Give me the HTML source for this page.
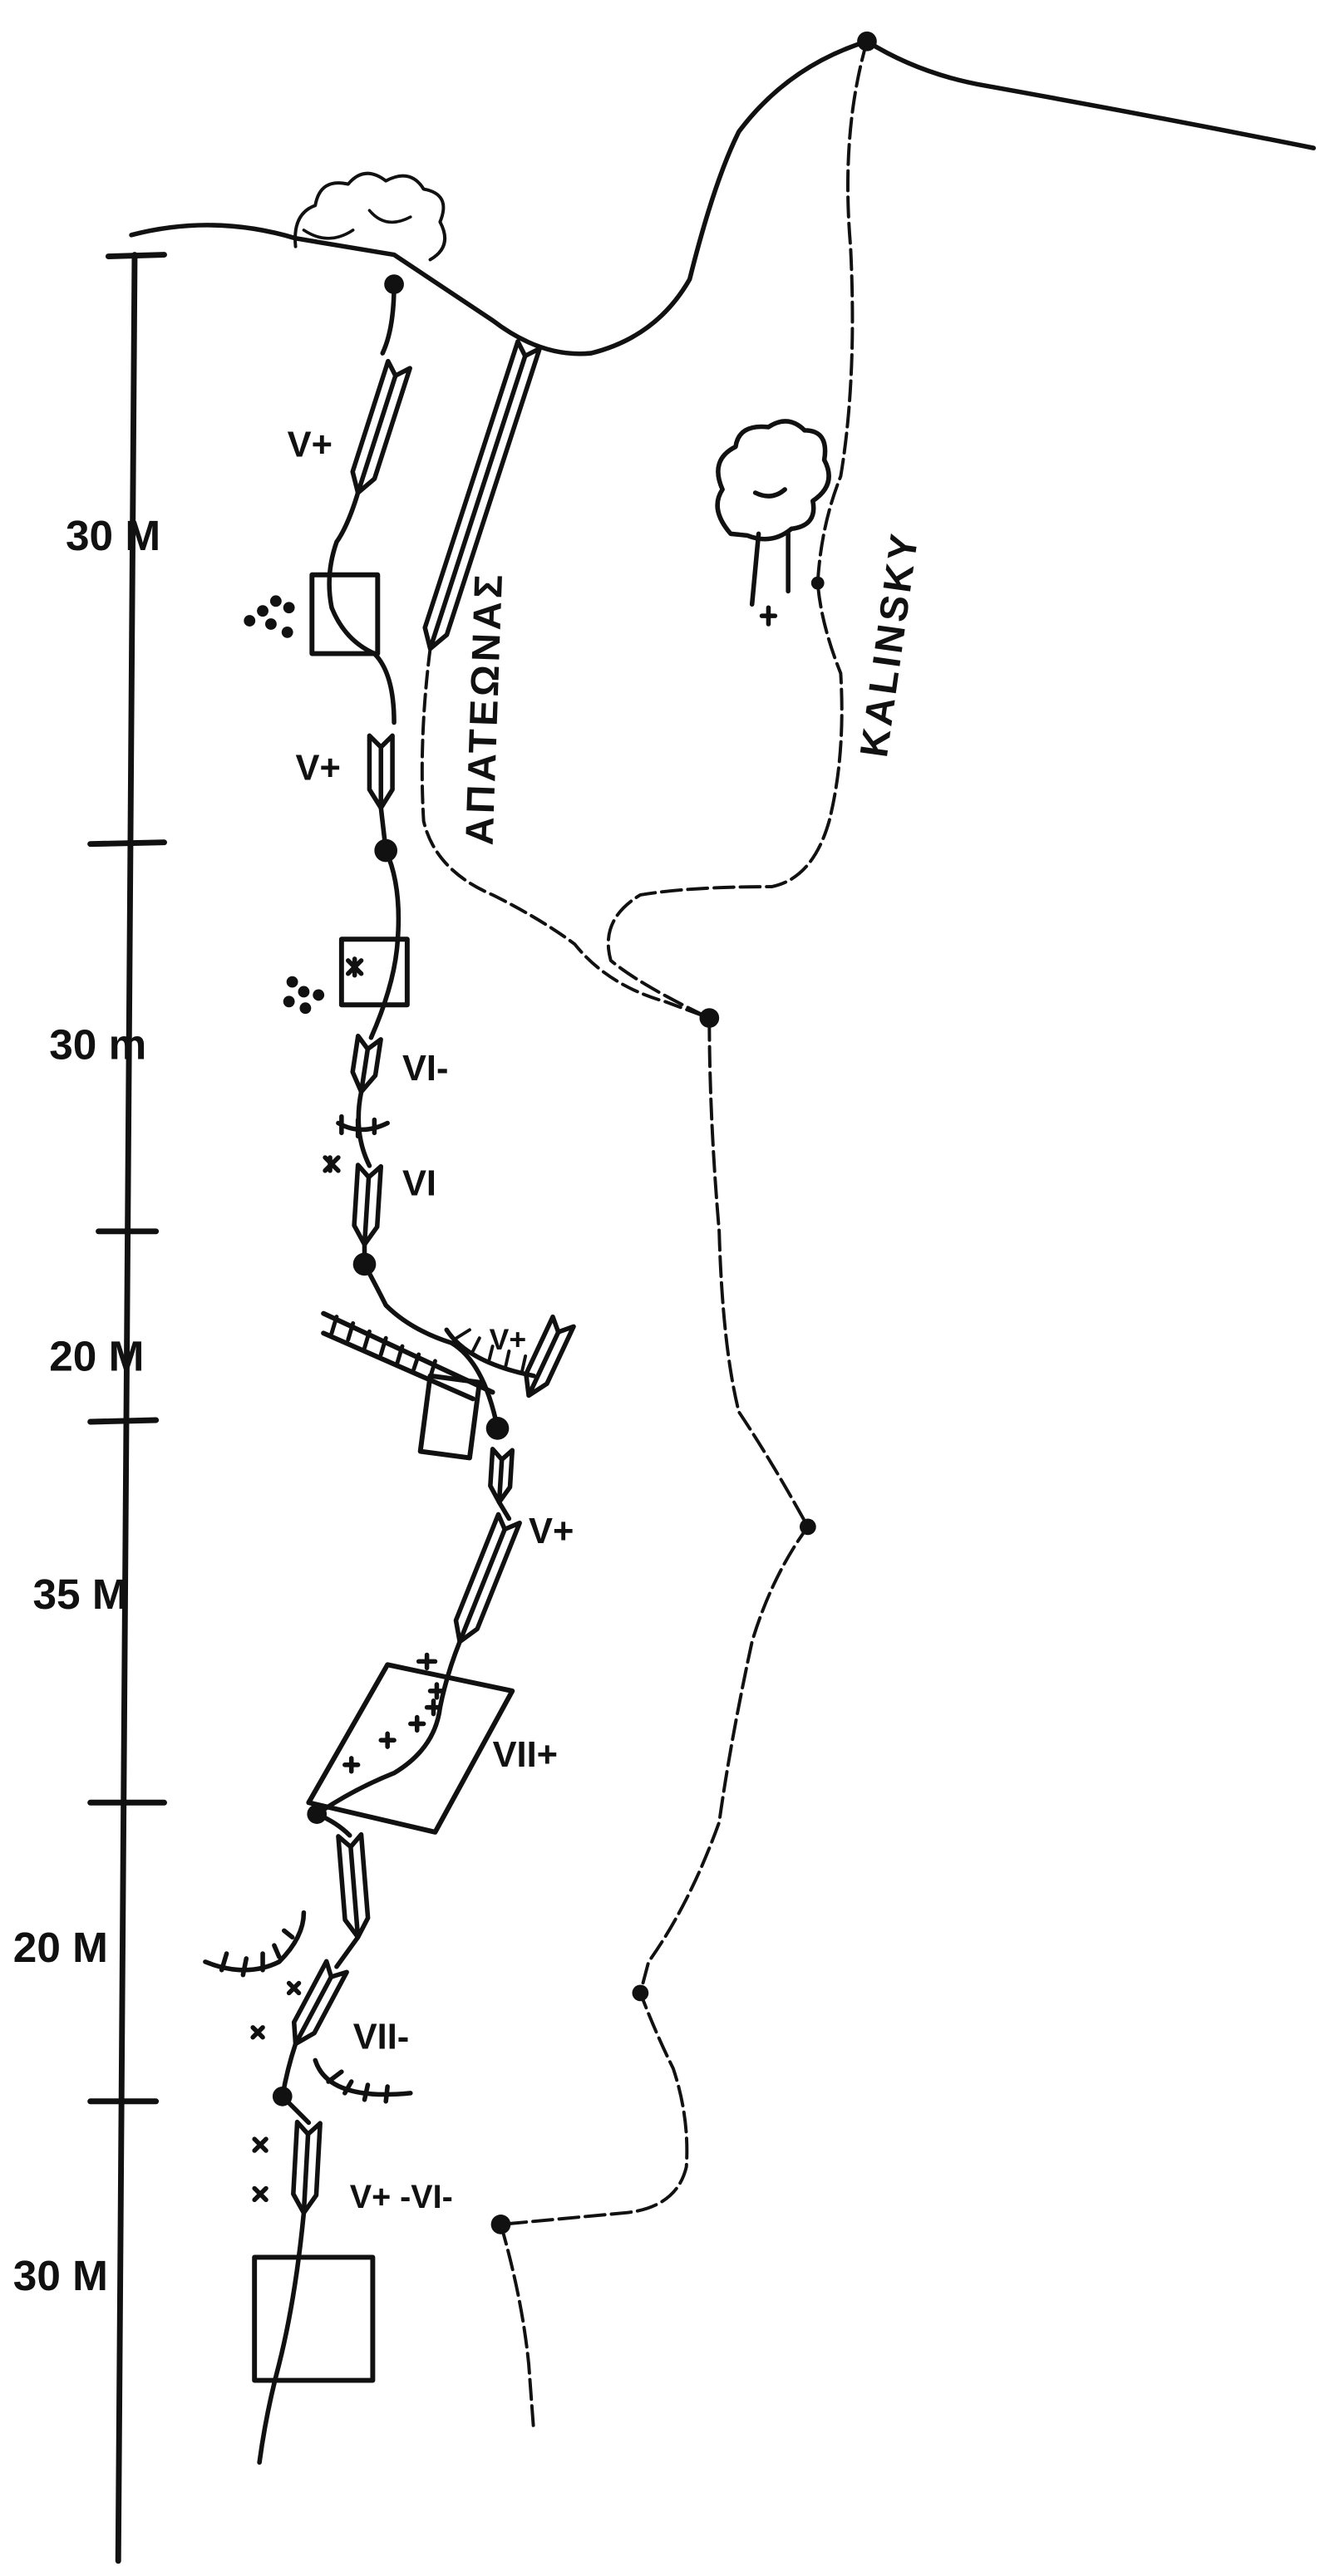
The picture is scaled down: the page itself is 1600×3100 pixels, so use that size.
<!DOCTYPE html>
<html><head><meta charset="utf-8"><style>
html,body{margin:0;padding:0;background:#fff;}
svg{display:block;}
text{font-family:"Liberation Sans",sans-serif;font-weight:bold;fill:#111;}
</style></head><body>
<svg id="s" width="1600" height="3100" viewBox="0 0 810 1569" xmlns="http://www.w3.org/2000/svg">
<g fill="none" stroke="#111" stroke-width="2.8" stroke-linecap="round" stroke-linejoin="round">
<!-- scale -->
<line x1="82" y1="155" x2="72" y2="1560" stroke-width="3.5"/>
<line x1="66" y1="156" x2="100" y2="155" stroke-width="3.5"/>
<line x1="55" y1="514" x2="100" y2="513" stroke-width="3.5"/>
<line x1="60" y1="750" x2="95" y2="750" stroke-width="3.5"/>
<line x1="55" y1="866" x2="95" y2="865" stroke-width="3.5"/>
<line x1="55" y1="1098" x2="100" y2="1098" stroke-width="3.5"/>
<line x1="55" y1="1280" x2="95" y2="1280" stroke-width="3.5"/>
<!-- ridge -->
<path d="M80 143 Q130 130 180 145 L240 155 Q270 175 300 195 Q330 218 360 215 Q400 205 420 170 Q435 110 450 80 Q480 40 528 25 Q560 45 600 52 Q700 70 800 90"/>
<!-- bush -->
<path d="M180 150 Q178 130 192 125 Q195 108 212 112 Q222 100 235 110 Q250 102 258 115 Q275 118 268 135 Q276 150 262 158" stroke-width="2"/>
<path d="M185 140 Q200 150 215 140 M225 128 Q235 140 250 132" stroke-width="1.8"/>
<!-- main route -->
<path d="M240 173 Q240 200 233 215 M218 300 Q212 320 205 330 Q198 350 202 370 Q210 390 228 398 Q240 410 240 440 M232 492 L235 518 Q245 540 242 575 Q240 600 226 632 M220 665 Q215 690 225 710 M222 758 L222 770 Q230 785 235 795 Q250 810 275 818 Q295 830 303 870 M304 915 L310 925 M280 1000 Q272 1020 268 1040 Q265 1065 240 1080 Q215 1090 193 1105 M193 1105 Q205 1110 213 1118 M218 1180 L205 1198 M180 1245 Q175 1260 172 1277 L188 1293 M185 1348 Q180 1400 170 1440 Q162 1470 158 1500" />
<!-- apateonas path -->
<path d="M262 395 Q255 450 258 500 Q265 530 300 545 Q330 560 350 575 Q370 600 405 610 L432 620" stroke-dasharray="10 4" stroke-width="2"/>
<!-- kalinsky dashed -->
<path d="M528 25 Q512 80 518 150 Q522 230 512 290 Q500 320 498 355 Q500 380 512 410 Q515 460 505 500 Q495 535 470 540 Q420 540 390 545 Q365 560 372 585 Q390 600 432 620 Q432 680 438 750 Q440 820 450 860 Q470 890 492 930 Q470 960 458 1000 Q445 1060 438 1110 Q420 1160 395 1195 L390 1214 Q400 1240 410 1260 Q420 1290 418 1320 Q412 1345 380 1348 L305 1355 Q318 1400 322 1440 L325 1480" stroke-dasharray="12 4" stroke-width="2"/>
<!-- boxes -->
<rect x="190" y="350" width="40" height="48" stroke-width="3"/>
<rect x="208" y="572" width="40" height="40" stroke-width="3"/>
<polygon points="262,838 292,842 286,888 256,884" stroke-width="3"/>
<polygon points="236,1014 312,1030 265,1116 188,1098" stroke-width="3"/>
<rect x="155" y="1375" width="72" height="75" stroke-width="3"/>
<!-- hatched ledges -->
<path d="M197 800 L300 848 M197 812 L288 852" stroke-width="3"/>
<path d="M205 802 L202 812 M215 806 L212 816 M225 811 L222 821 M235 815 L232 825 M245 820 L242 830 M255 825 L252 834 M265 829 L262 839" stroke-width="2.5"/>
<path d="M272 810 Q285 830 325 838" />
<path d="M278 815 L286 810 M288 823 L292 815 M298 828 L300 820 M308 832 L310 823 M318 835 L320 826" stroke-width="2"/>
<path d="M125 1195 Q150 1205 170 1195 Q185 1180 185 1165"/>
<path d="M135 1200 L138 1190 M148 1203 L150 1193 M160 1200 L160 1190 M170 1192 L167 1185 M178 1180 L173 1176"/>
<path d="M192 1255 Q200 1280 250 1275"/>
<path d="M200 1268 L208 1262 M210 1275 L214 1268 M222 1279 L224 1270 M235 1280 L236 1271"/>
<!-- crosses on slab -->
<path d="M210 1075 l8 0 m-4 -4 l0 8 M232 1060 l8 0 m-4 -4 l0 8 M250 1050 l8 0 m-4 -4 l0 8 M260 1040 l8 0 m-4 -4 l0 8 M262 1030 l8 0 m-4 -4 l0 8 M255 1012 l10 0 m-5 -4 l0 8"/>
<path d="M176 1208 l6 6 m0 -6 l-6 6 M154 1235 l6 6 m0 -6 l-6 6 M155 1303 l7 7 m0 -7 l-7 7 M155 1333 l7 7 m0 -7 l-7 7 M198 705 l8 8 m0 -8 l-8 8 M201 705 l0 8 M212 585 l8 8 m0 -8 l-8 8 M216 584 l0 10"/>
<path d="M206 684 Q220 692 236 684 M208 690 L208 680 M218 692 L218 682 M228 690 L228 682"/>
<!-- tree -->
<path d="M445 325 Q432 310 440 298 Q432 280 448 272 Q450 258 468 260 Q480 252 490 262 Q505 262 502 280 Q510 295 495 305 Q498 320 482 322 Q470 332 455 326 Z"/>
<path d="M462 325 L458 368 M480 325 L480 360 M460 300 Q470 305 478 298"/>
<path d="M468 370 l0 10 m-4 -5 l8 0"/>
</g>
<g fill="#111">
<circle cx="240" cy="173" r="6"/><circle cx="235" cy="518" r="7"/><circle cx="222" cy="770" r="7"/>
<circle cx="303" cy="870" r="7"/><circle cx="193" cy="1105" r="6"/><circle cx="172" cy="1277" r="6"/>
<circle cx="528" cy="25" r="6"/><circle cx="432" cy="620" r="6"/><circle cx="492" cy="930" r="5"/>
<circle cx="390" cy="1214" r="5"/><circle cx="305" cy="1355" r="6"/><circle cx="498" cy="355" r="4"/>
<circle cx="160" cy="372" r="3.5"/><circle cx="168" cy="366" r="3.5"/><circle cx="176" cy="370" r="3.5"/><circle cx="165" cy="380" r="3.5"/><circle cx="175" cy="385" r="3.5"/><circle cx="152" cy="378" r="3.5"/>
<circle cx="178" cy="598" r="3.5"/><circle cx="185" cy="604" r="3.5"/><circle cx="176" cy="610" r="3.5"/><circle cx="186" cy="614" r="3.5"/><circle cx="194" cy="606" r="3.5"/>
</g>
<g id="arrows" fill="none" stroke="#111" stroke-width="2.8" stroke-linejoin="round"></g>
<g font-size="22">
<text x="40" y="335" font-size="26">30 M</text>
<text x="30" y="645" font-size="26">30 m</text>
<text x="30" y="835" font-size="26">20 M</text>
<text x="20" y="980" font-size="26">35 M</text>
<text x="8" y="1195" font-size="26">20 M</text>
<text x="8" y="1395" font-size="26">30 M</text>
<text x="175" y="278">V+</text>
<text x="180" y="475">V+</text>
<text x="245" y="658">VI-</text>
<text x="245" y="728">VI</text>
<text x="298" y="822" font-size="18">V+</text>
<text x="322" y="940">V+</text>
<text x="300" y="1076">VII+</text>
<text x="215" y="1248">VII-</text>
<text x="213" y="1345" font-size="20">V+ -VI-</text>
<text transform="translate(300,515) rotate(-88)" font-size="24" letter-spacing="2">ΑΠΑΤΕΩΝΑΣ</text>
<text transform="translate(540,462) rotate(-82)" font-size="24" letter-spacing="2">KALINSKY</text>
</g>
</svg>
<script>
var A=[[243,222,218,300,7],[322,210,262,395,7],[232,448,232,492,7],[225,632,220,665,7],[225,710,222,758,7],[343,805,322,850,7],[306,883,304,915,6],[310,925,280,1000,7],[213,1118,218,1180,7],[205,1198,180,1245,7],[188,1293,185,1348,7]];
var g=document.getElementById('arrows'),h='';
A.forEach(function(a){var dx=a[2]-a[0],dy=a[3]-a[1],L=Math.sqrt(dx*dx+dy*dy),w=a[4];
var ang=Math.atan2(dy,dx)*180/Math.PI-90;
h+='<g transform="translate('+a[0]+','+a[1]+') rotate('+ang+')"><polygon points="'+(-w)+',0 0,'+w+' '+w+',0 '+w+','+(L-w*1.6)+' 0,'+L+' '+(-w)+','+(L-w*1.6)+'"/><line x1="0" y1="'+w+'" x2="0" y2="'+L+'"/></g>';});
g.innerHTML=h;
</script>
</body></html>
